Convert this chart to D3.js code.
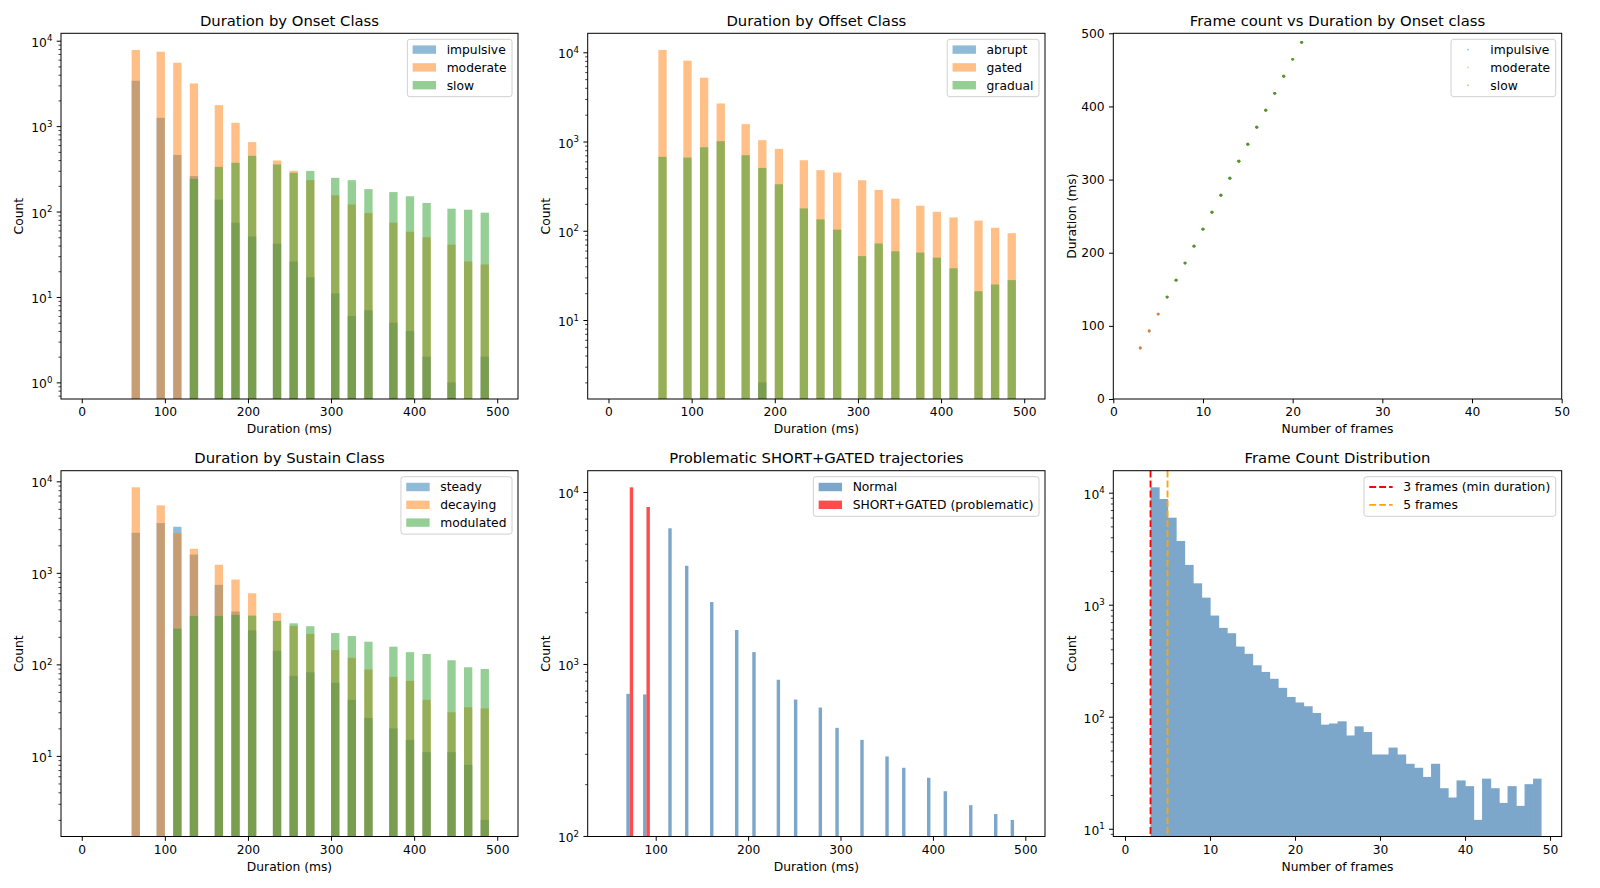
<!DOCTYPE html>
<html>
<head>
<meta charset="utf-8">
<script src="https://cdn.jsdelivr.net/npm/d3@7"></script>
<style>
  body { margin: 0; background: #fff; }
  svg { font-family: "DejaVu Sans", sans-serif; }
</style>
</head>
<body>
<svg id="fig" width="1600" height="888"></svg>
<script>
// ---- data ----
// 10 ms duration bins that hold any trajectories (left edges, ms)
const durationBins = [60, 90, 110, 130, 160, 180, 200, 230, 250, 270, 300, 320, 340, 370, 390, 410, 440, 460, 480];
const durationBinWidth = 10;

const onsetImpulsive = [3400, 1250, 460, 260, 138, 74, 51, 42, 26, 17, 11, 6, 7, 5, 4, 2, 1, 0, 2];
const onsetModerate  = [7800, 7430, 5520, 3160, 1760, 1094, 650, 396, 300, 233, 155, 121, 96, 74, 58, 50, 41, 26, 24];
const onsetSlow      = [0, 0, 0, 241, 333, 372, 449, 356, 284, 299, 248, 233, 183, 169, 151, 126, 108, 105, 97];

const offsetAbrupt  = [0, 0, 0, 0, 0, 2, 0, 0, 0, 0, 0, 0, 0, 0, 0, 0, 0, 0, 0];
const offsetGated   = [10630, 8060, 5190, 2670, 1566, 1035, 828, 617, 477, 449, 368, 287, 229, 191, 163, 141, 130, 108, 94];
const offsetGradual = [673, 661, 863, 1009, 702, 506, 332, 178, 134, 103, 52, 72, 59, 57, 50, 38, 21, 25, 28];

const sustainSteady    = [2740, 3500, 3190, 1585, 740, 378, 235, 141, 75, 82, 63, 41, 26, 20, 15, 11, 11, 8, 2];
const sustainDecaying  = [8600, 5460, 2720, 1834, 1225, 845, 598, 365, 263, 215, 143, 118, 88, 73, 66, 41, 30, 34, 33];
const sustainModulated = [0, 0, 246, 338, 338, 347, 341, 298, 281, 261, 220, 204, 177, 156, 136, 130, 111, 93, 89];

// frame count -> duration (scatter)
const scatterFrames    = [3, 4, 5, 6, 7, 8, 9, 10, 11, 12, 13, 14, 15, 16, 17, 18, 19, 20, 21];
const scatterDurations = [69.7, 92.9, 116.1, 139.3, 162.5, 185.8, 209.0, 232.2, 255.4, 278.6, 301.8, 325.1, 348.3, 371.5, 394.7, 417.9, 441.2, 464.4, 487.6];
const impulsiveFrames = [3, 4, 5, 6, 7, 8, 9, 10, 11, 12, 13, 14, 15, 16, 17, 18, 19, 21];
const moderateFrames  = [3, 4, 5, 6, 7, 8, 9, 10, 11, 12, 13, 14, 15, 16, 17, 18, 19, 20, 21];
const slowFrames      = [6, 7, 8, 9, 10, 11, 12, 13, 14, 15, 16, 17, 18, 19, 20, 21];

// normal vs SHORT+GATED (grouped histogram, left edges in ms)
const normalBinStart = [68.2, 86.3, 113.6, 131.7, 158.8, 185.8, 204.5, 230.9, 249.6, 276.3, 294.4, 321.4, 348.5, 366.6, 393.6, 411.6, 439.1, 466.1, 484.1];
const normalCounts   = [670, 665, 6150, 3720, 2290, 1574, 1172, 809, 621, 558, 425, 362, 290, 249, 218, 182, 151, 134, 124];
const shortGatedBinStart = [71.9, 90.0];
const shortGatedCounts   = [10640, 8180];
const groupedBarWidth = 3.7;

// frame count histogram (1-frame bins)
const frameBins = [3, 4, 5, 6, 7, 8, 9, 10, 11, 12, 13, 14, 15, 16, 17, 18, 19, 20, 21, 22, 23, 24, 25,
  26, 27, 28, 29, 30, 31, 32, 33, 34, 35, 36, 37, 38, 39, 40, 41, 42, 43, 44, 45, 46, 47, 48];
const frameCounts = [11160, 8780, 5980, 3705, 2265, 1552, 1156, 800, 621, 556, 423, 364, 288, 251, 218, 181, 150, 134, 124, 108, 85,
  87, 91, 68, 82, 73, 46, 46, 53, 46, 38, 35, 29, 38, 23, 19, 27, 24, 12, 28, 23, 17, 24, 16, 25, 28];
const frameMarkers = [3, 5];

// ---- layout ----
const C_BLUE = "#1f77b4", C_ORANGE = "#ff7f0e", C_GREEN = "#2ca02c";
const svg = d3.select("#fig");
const cols = [{l: 61, r: 518}, {l: 587.7, r: 1045}, {l: 1113.3, r: 1561.7}];
const rows = [{t: 33.3, b: 399}, {t: 470.7, b: 836.5}];
const FS = 12.3;

function makePanel(c, r) {
  const g = svg.append("g").attr("transform", `translate(${c.l},${r.t})`);
  return {g: g, w: c.r - c.l, h: r.b - r.t};
}

function styleAxis(ga) {
  ga.attr("font-size", FS).attr("font-family", "DejaVu Sans");
  ga.select(".domain").remove();
  ga.selectAll(".tick line").attr("stroke", "#000").attr("stroke-width", 1);
  ga.selectAll(".tick text").attr("fill", "#000");
}

function xAxis(p, x, ticks) {
  const ga = p.g.append("g")
    .attr("transform", `translate(0,${p.h})`)
    .call(d3.axisBottom(x).tickValues(ticks).tickSize(4.3).tickPadding(4.3).tickFormat(d3.format("d")));
  styleAxis(ga);
}

function yAxisLinear(p, y, ticks) {
  const ga = p.g.append("g")
    .call(d3.axisLeft(y).tickValues(ticks).tickSize(4.3).tickPadding(4.3).tickFormat(d3.format("d")));
  styleAxis(ga);
}

function yAxisLog(p, y) {
  const [lo, hi] = y.domain();
  const major = [], minor = [];
  for (let k = Math.floor(Math.log10(lo)); k <= Math.ceil(Math.log10(hi)); k++) {
    const b = Math.pow(10, k);
    if (b >= lo && b <= hi) major.push(b);
    for (let m = 2; m <= 9; m++) {
      if (m * b >= lo && m * b <= hi) minor.push(m * b);
    }
  }
  const gm = p.g.append("g")
    .call(d3.axisLeft(y).tickValues(minor).tickSize(2.5).tickFormat(""));
  styleAxis(gm);
  gm.selectAll(".tick line").attr("stroke-width", 0.75);
  gm.selectAll(".tick text").remove();

  const ga = p.g.append("g")
    .call(d3.axisLeft(y).tickValues(major).tickSize(4.3).tickPadding(4.3).tickFormat(""));
  styleAxis(ga);
  ga.selectAll(".tick text").attr("dy", "0.45em").each(function(d) {
    const t = d3.select(this);
    t.append("tspan").text("10");
    t.append("tspan").attr("dy", "-0.62em").attr("font-size", "70%").text(Math.round(Math.log10(d)));
  });
}

// matplotlib-like 5% margin in log space
function logDomain(values) {
  const pos = values.filter(v => v > 0);
  const a = Math.log10(d3.min(pos)), b = Math.log10(d3.max(pos));
  const m = (b - a) * 0.05;
  return [Math.pow(10, a - m), Math.pow(10, b + m)];
}

function labels(p, title, xl, yl) {
  p.g.append("text").attr("x", p.w / 2).attr("y", -7.5)
    .attr("text-anchor", "middle").attr("font-size", 14.8).text(title);
  p.g.append("text").attr("x", p.w / 2).attr("y", p.h + 34.5)
    .attr("text-anchor", "middle").attr("font-size", FS).text(xl);
  p.g.append("text").attr("transform", `translate(-37.6,${p.h / 2}) rotate(-90)`)
    .attr("text-anchor", "middle").attr("font-size", FS).text(yl);
}

function frame(p) {
  p.g.append("rect").attr("width", p.w).attr("height", p.h)
    .attr("fill", "none").attr("stroke", "#000").attr("stroke-width", 1);
}

function legend(p, items) {
  const lg = p.g.append("g");
  const box = lg.append("rect");
  const rowH = 17.8;
  let maxW = 0;
  const texts = items.map((it, i) => {
    const t = lg.append("text").attr("font-size", FS).attr("dy", "0.35em").text(it.label);
    maxW = Math.max(maxW, t.node().getComputedTextLength());
    return t;
  });
  const bw = 5.3 + 23.4 + 10.6 + maxW + 5.5;
  const bx = p.w - 6 - bw, by = 6;
  box.attr("x", bx).attr("y", by).attr("width", bw).attr("height", rowH * items.length + 4)
    .attr("rx", 2.5).attr("fill", "#fff").attr("fill-opacity", 0.8)
    .attr("stroke", "#d0d0d0").attr("stroke-width", 1);
  items.forEach((it, i) => {
    const cy = by + 10.3 + rowH * i;
    const hx = bx + 5.3;
    if (it.type === "patch") {
      lg.append("rect").attr("x", hx).attr("y", cy - 4.2).attr("width", 23.4).attr("height", 8.4)
        .attr("fill", it.color).attr("fill-opacity", it.alpha);
    } else if (it.type === "dot") {
      lg.append("circle").attr("cx", hx + 11.7).attr("cy", cy).attr("r", 0.9)
        .attr("fill", it.color).attr("fill-opacity", 0.45);
    } else {
      lg.append("line").attr("x1", hx).attr("x2", hx + 23.4).attr("y1", cy).attr("y2", cy)
        .attr("stroke", it.color).attr("stroke-width", 1.85).attr("stroke-dasharray", "6.9,3");
    }
    texts[i].attr("x", hx + 34).attr("y", cy);
  });
}

// overlapping class histograms (panels 1, 2, 4)
function classHistogram(c, r, title, series) {
  const p = makePanel(c, r);
  const x = d3.scaleLinear().domain([-25, 525]).range([0, p.w]);
  const y = d3.scaleLog().domain(logDomain(series.flatMap(s => s.values))).range([p.h, 0]);
  series.forEach(s => {
    p.g.append("g").selectAll("rect")
      .data(durationBins.map((b, i) => ({b: b, v: s.values[i]})).filter(d => d.v > 0))
      .enter().append("rect")
      .attr("x", d => x(d.b))
      .attr("width", d => x(d.b + durationBinWidth) - x(d.b))
      .attr("y", d => y(d.v))
      .attr("height", d => p.h - y(d.v))
      .attr("fill", s.color).attr("fill-opacity", 0.5);
  });
  xAxis(p, x, [0, 100, 200, 300, 400, 500]);
  yAxisLog(p, y);
  labels(p, title, "Duration (ms)", "Count");
  frame(p);
  legend(p, series.map(s => ({type: "patch", label: s.label, color: s.color, alpha: 0.5})));
}

classHistogram(cols[0], rows[0], "Duration by Onset Class", [
  {label: "impulsive", color: C_BLUE, values: onsetImpulsive},
  {label: "moderate", color: C_ORANGE, values: onsetModerate},
  {label: "slow", color: C_GREEN, values: onsetSlow}
]);
classHistogram(cols[1], rows[0], "Duration by Offset Class", [
  {label: "abrupt", color: C_BLUE, values: offsetAbrupt},
  {label: "gated", color: C_ORANGE, values: offsetGated},
  {label: "gradual", color: C_GREEN, values: offsetGradual}
]);
classHistogram(cols[0], rows[1], "Duration by Sustain Class", [
  {label: "steady", color: C_BLUE, values: sustainSteady},
  {label: "decaying", color: C_ORANGE, values: sustainDecaying},
  {label: "modulated", color: C_GREEN, values: sustainModulated}
]);

// scatter: frame count vs duration
(function() {
  const p = makePanel(cols[2], rows[0]);
  const x = d3.scaleLinear().domain([0, 50]).range([0, p.w]);
  const y = d3.scaleLinear().domain([0, 500]).range([p.h, 0]);
  const groups = [
    {label: "impulsive", color: C_BLUE, frames: impulsiveFrames},
    {label: "moderate", color: C_ORANGE, frames: moderateFrames},
    {label: "slow", color: C_GREEN, frames: slowFrames}
  ];
  groups.forEach(gr => {
    p.g.append("g").selectAll("circle")
      .data(gr.frames.map(f => ({f: f, d: scatterDurations[scatterFrames.indexOf(f)]})))
      .enter().append("circle")
      .attr("cx", d => x(d.f)).attr("cy", d => y(d.d)).attr("r", 1.45)
      .attr("fill", gr.color).attr("fill-opacity", 0.85);
  });
  xAxis(p, x, [0, 10, 20, 30, 40, 50]);
  yAxisLinear(p, y, [0, 100, 200, 300, 400, 500]);
  labels(p, "Frame count vs Duration by Onset class", "Number of frames", "Duration (ms)");
  frame(p);
  legend(p, groups.map(gr => ({type: "dot", label: gr.label, color: gr.color})));
})();

// normal vs SHORT+GATED
(function() {
  const p = makePanel(cols[1], rows[1]);
  const x = d3.scaleLinear().domain([26.4, 521.3]).range([0, p.w]);
  const y = d3.scaleLog().domain(logDomain(normalCounts.concat(shortGatedCounts))).range([p.h, 0]);
  const sets = [
    {label: "Normal", color: "steelblue", starts: normalBinStart, counts: normalCounts},
    {label: "SHORT+GATED (problematic)", color: "red", starts: shortGatedBinStart, counts: shortGatedCounts}
  ];
  sets.forEach(s => {
    p.g.append("g").selectAll("rect")
      .data(s.starts.map((b, i) => ({b: b, v: s.counts[i]})))
      .enter().append("rect")
      .attr("x", d => x(d.b))
      .attr("width", d => x(d.b + groupedBarWidth) - x(d.b))
      .attr("y", d => y(d.v))
      .attr("height", d => p.h - y(d.v))
      .attr("fill", s.color).attr("fill-opacity", 0.7);
  });
  xAxis(p, x, [100, 200, 300, 400, 500]);
  yAxisLog(p, y);
  labels(p, "Problematic SHORT+GATED trajectories", "Duration (ms)", "Count");
  frame(p);
  legend(p, sets.map(s => ({type: "patch", label: s.label, color: s.color, alpha: 0.7})));
})();

// frame count distribution
(function() {
  const p = makePanel(cols[2], rows[1]);
  const x = d3.scaleLinear().domain([-1.38, 51.37]).range([0, p.w]);
  const y = d3.scaleLog().domain(logDomain(frameCounts)).range([p.h, 0]);
  p.g.append("g").attr("opacity", 0.7).selectAll("rect")
    .data(frameBins.map((b, i) => ({b: b, v: frameCounts[i]})))
    .enter().append("rect")
    .attr("x", d => x(d.b))
    .attr("width", d => x(d.b + 1) - x(d.b) + (d.b < 48 ? 0.6 : 0))
    .attr("y", d => y(d.v))
    .attr("height", d => p.h - y(d.v))
    .attr("fill", "steelblue");
  const lineColors = ["red", "orange"];
  p.g.append("g").selectAll("line")
    .data(frameMarkers)
    .enter().append("line")
    .attr("x1", d => x(d)).attr("x2", d => x(d))
    .attr("y1", 0).attr("y2", p.h)
    .attr("stroke", (d, i) => lineColors[i])
    .attr("stroke-width", 1.85).attr("stroke-dasharray", "6.9,3");
  xAxis(p, x, [0, 10, 20, 30, 40, 50]);
  yAxisLog(p, y);
  labels(p, "Frame Count Distribution", "Number of frames", "Count");
  frame(p);
  legend(p, [
    {type: "line", label: "3 frames (min duration)", color: "red"},
    {type: "line", label: "5 frames", color: "orange"}
  ]);
})();
</script>
</body>
</html>
